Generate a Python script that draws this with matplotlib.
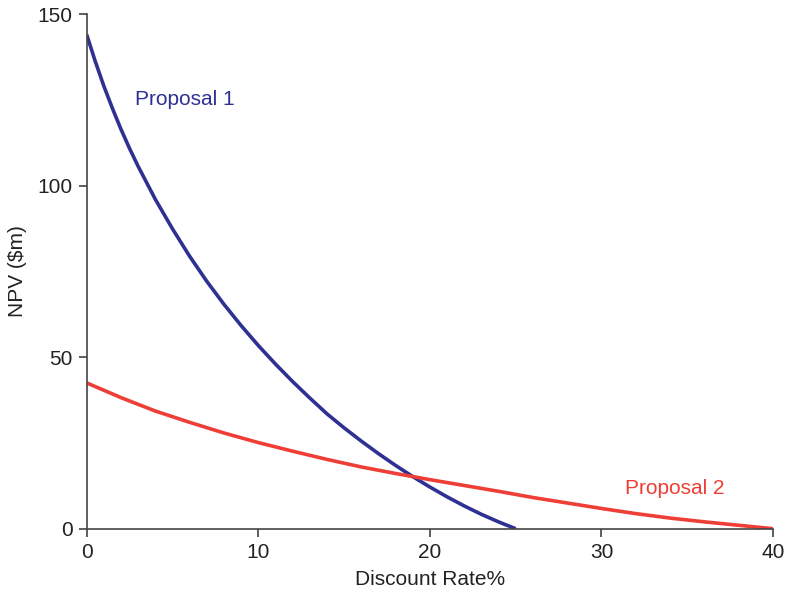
import numpy as np
import matplotlib
matplotlib.use("Agg")
import matplotlib.pyplot as plt

# values
rate_1 = [0, 0.5, 1, 1.5, 2, 2.5, 3, 4, 5, 6, 7, 8, 9, 10, 11, 12, 13,
          14, 15, 16, 17, 18, 19, 20, 21, 22, 23, 24, 25]
npv_1 = [144, 136.2, 129, 122.5, 116.4, 110.8, 105.6, 96.0, 87.4, 79.4,
         72.1, 65.4, 59.2, 53.4, 48.0, 42.9, 38.1, 33.5, 29.4, 25.55,
         21.9, 18.45, 15.2, 12.15, 9.3, 6.65, 4.2, 2.0, 0]

rate_2 = list(range(0, 41, 2))
npv_2 = [42.5, 38.2, 34.3, 31.0, 27.9, 25.1, 22.6, 20.2, 18.0, 16.1,
         14.3, 12.6, 10.9, 9.1, 7.5, 5.9, 4.4, 3.1, 2.0, 1.0, 0]

x_ticks = [0, 10, 20, 30, 40]
y_ticks = [0, 50, 100, 150]

blue = "#2e3192"
red = "#ee3e36"

plt.rcParams['font.family'] = ['Liberation Sans', 'DejaVu Sans']

fig = plt.figure(figsize=(7.88, 5.96), dpi=100)
ax = fig.add_axes([0.110, 0.1129, 0.871, 0.8636])

ax.plot(rate_1, npv_1, color=blue, lw=2.6, solid_capstyle='butt', solid_joinstyle='round')
ax.plot(rate_2, npv_2, color=red, lw=2.6, solid_capstyle='butt', solid_joinstyle='round')

ax.text(2.8, 125, "Proposal 1", color=blue, fontsize=15, va='center', ha='left')
ax.text(31.35, 11.6, "Proposal 2", color=red, fontsize=15, va='center', ha='left')

ax.set_xlim(0, 40)
ax.set_ylim(0, 150)
ax.set_xticks(x_ticks)
ax.set_yticks(y_ticks)
ax.tick_params(direction='out', length=6, width=1.1, colors='#333333',
               labelsize=15, labelcolor='#222222', pad=4)

for side in ['top', 'right']:
	ax.spines[side].set_visible(False)
for side in ['left', 'bottom']:
	ax.spines[side].set_color('#444444')
	ax.spines[side].set_linewidth(1.2)

ax.set_xlabel("Discount Rate%", fontsize=15, color='#222222', labelpad=6)
ax.set_ylabel("NPV (\\$m)", fontsize=15, color='#222222', labelpad=8)

fig.savefig("out.png", dpi=100)
